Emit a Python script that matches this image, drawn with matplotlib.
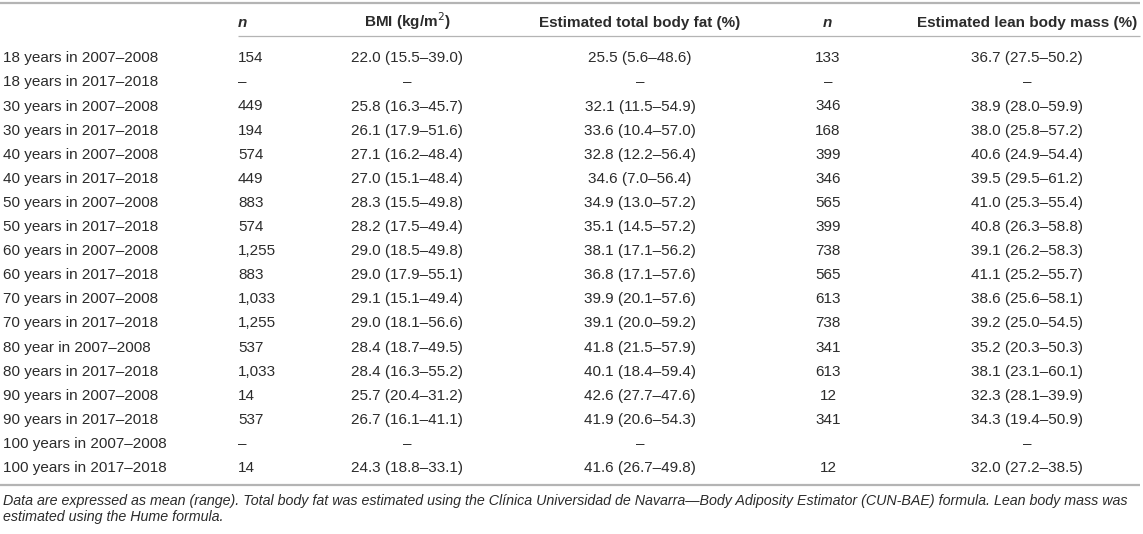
import matplotlib.pyplot as plt

plt.rcParams['font.family'] = ['Liberation Sans', 'DejaVu Sans']

# table content
headers = ['', 'n', 'BMI (kg/m$^{2}$)', 'Estimated total body fat (%)', 'n',
           'Estimated lean body mass (%)']
groups = ['18 years in 2007–2008', '18 years in 2017–2018',
          '30 years in 2007–2008', '30 years in 2017–2018',
          '40 years in 2007–2008', '40 years in 2017–2018',
          '50 years in 2007–2008', '50 years in 2017–2018',
          '60 years in 2007–2008', '60 years in 2017–2018',
          '70 years in 2007–2008', '70 years in 2017–2018',
          '80 year in 2007–2008', '80 years in 2017–2018',
          '90 years in 2007–2008', '90 years in 2017–2018',
          '100 years in 2007–2008', '100 years in 2017–2018']
n_bmi = ['154', '–', '449', '194', '574', '449', '883', '574', '1,255', '883',
         '1,033', '1,255', '537', '1,033', '14', '537', '–', '14']
bmi = ['22.0 (15.5–39.0)', '–', '25.8 (16.3–45.7)', '26.1 (17.9–51.6)',
       '27.1 (16.2–48.4)', '27.0 (15.1–48.4)', '28.3 (15.5–49.8)',
       '28.2 (17.5–49.4)', '29.0 (18.5–49.8)', '29.0 (17.9–55.1)',
       '29.1 (15.1–49.4)', '29.0 (18.1–56.6)', '28.4 (18.7–49.5)',
       '28.4 (16.3–55.2)', '25.7 (20.4–31.2)', '26.7 (16.1–41.1)', '–',
       '24.3 (18.8–33.1)']
body_fat = ['25.5 (5.6–48.6)', '–', '32.1 (11.5–54.9)', '33.6 (10.4–57.0)',
            '32.8 (12.2–56.4)', '34.6 (7.0–56.4)', '34.9 (13.0–57.2)',
            '35.1 (14.5–57.2)', '38.1 (17.1–56.2)', '36.8 (17.1–57.6)',
            '39.9 (20.1–57.6)', '39.1 (20.0–59.2)', '41.8 (21.5–57.9)',
            '40.1 (18.4–59.4)', '42.6 (27.7–47.6)', '41.9 (20.6–54.3)', '–',
            '41.6 (26.7–49.8)']
n_lean = ['133', '–', '346', '168', '399', '346', '565', '399', '738', '565',
          '613', '738', '341', '613', '12', '341', '', '12']
lean = ['36.7 (27.5–50.2)', '–', '38.9 (28.0–59.9)', '38.0 (25.8–57.2)',
        '40.6 (24.9–54.4)', '39.5 (29.5–61.2)', '41.0 (25.3–55.4)',
        '40.8 (26.3–58.8)', '39.1 (26.2–58.3)', '41.1 (25.2–55.7)',
        '38.6 (25.6–58.1)', '39.2 (25.0–54.5)', '35.2 (20.3–50.3)',
        '38.1 (23.1–60.1)', '32.3 (28.1–39.9)', '34.3 (19.4–50.9)', '–',
        '32.0 (27.2–38.5)']
footnote = ('Data are expressed as mean (range). Total body fat was estimated using the '
            'Clínica Universidad de Navarra\u2014Body Adiposity Estimator (CUN-BAE) '
            'formula. Lean body mass was\nestimated using the Hume formula.')

W, H = 1143, 534
fig = plt.figure(figsize=(W / 100, H / 100), dpi=100)
ax = fig.add_axes([0, 0, 1, 1])
ax.set_xlim(0, W)
ax.set_ylim(H, 0)
ax.axis('off')

txt = '#2b2b2b'
rule = '#b4b4b4'
fs = 11
base = 4.8  # baseline offset below row centre, px

# column x positions and alignment
col_x = [3, 238, 407, 640, 828, 1027]
col_ha = ['left', 'left', 'center', 'center', 'center', 'center']
columns = [groups, n_bmi, bmi, body_fat, n_lean, lean]

# header
y_head = 22
for x, ha, h in zip(col_x, col_ha, headers):
    style = 'italic' if h == 'n' else 'normal'
    hx = 827 if (h == 'n' and x == 828) else x
    ax.text(hx, y_head + base, h, ha=ha, va='baseline', fontsize=fs,
            fontweight='bold', fontstyle=style, color=txt)

# rules
ax.plot([0, 1140], [3, 3], color=rule, lw=1.6, solid_capstyle='butt')
ax.plot([238, 1140], [36, 36], color=rule, lw=0.9, solid_capstyle='butt')
ax.plot([0, 1140], [485, 485], color=rule, lw=1.6, solid_capstyle='butt')

# body
y0, dy = 57.5, 24.1
for i in range(len(groups)):
    y = y0 + i * dy
    for x, ha, col in zip(col_x, col_ha, columns):
        ax.text(x, y + base, col[i], ha=ha, va='baseline', fontsize=fs, color=txt)

ax.text(3, 494, footnote, ha='left', va='top', fontsize=10.3, fontstyle='italic',
        color=txt, linespacing=1.15)

fig.savefig('out.png', dpi=100)
